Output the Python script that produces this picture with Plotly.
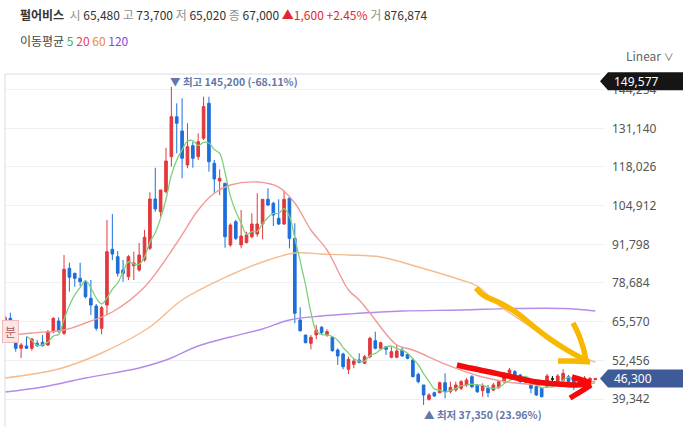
import plotly.graph_objects as go
import pandas as pd

# ---------------- data ----------------
opens = [65480, 66710, 59930, 56540, 57320, 56540, 58230, 58570, 57660, 62170,
         65800, 61630, 83670, 81970, 80280, 78780, 73490, 70880, 63320, 71220,
         90110, 87600, 83090, 80820, 84550, 83090, 86480, 90450, 107170, 102860,
         109640, 121510, 135070, 130230, 118700, 125240, 121510, 127750, 139620, 119270,
         113270, 112490, 91570, 99470, 91570, 92350, 94380, 95300, 98690, 107060,
         105710, 100620, 98690, 107400, 93840, 66140, 61050, 58230, 61050, 63660,
         61050, 60270, 55960, 54610, 49420, 51110, 52570, 51450, 53690, 59120,
         56540, 57080, 53490, 53490, 55960, 54500, 52570, 47720, 44090, 39240,
         41480, 41480, 44870, 41820, 42400, 42970, 44090, 46910, 44090, 42160,
         42970, 42400, 43310, 45210, 46910, 48600, 47490, 45110, 44430, 43520,
         42970, 43520, 46130, 44870, 45550, 46910, 45790, 45110, 44770, 45790,
         45900]
highs = [67490, 68610, 60710, 58340, 60470, 60030, 59350, 61050, 62740, 67050,
         67050, 88180, 85570, 82170, 85570, 79700, 79700, 71560, 70880, 100050,
         102080, 89530, 86480, 88180, 89300, 92250, 96650, 109440, 117780, 110220,
         124560, 145200, 139620, 141310, 132840, 126600, 129450, 141860, 141860, 120390,
         117240, 112490, 98930, 100050, 103440, 96080, 102320, 109100, 107060, 110790,
         106250, 107060, 109980, 107950, 98930, 70440, 61050, 61050, 64440, 64100,
         62980, 60710, 56540, 55050, 53690, 53150, 54840, 54270, 60470, 62170,
         58780, 57080, 57080, 57660, 57080, 54840, 53150, 48260, 44090, 41280,
         41820, 45210, 48060, 45210, 45210, 45790, 46470, 47490, 44430, 44670,
         44090, 44770, 45790, 48500, 49860, 49180, 47820, 47150, 44870, 44090,
         43420, 47820, 47150, 47820, 49420, 47490, 46470, 45790, 47150, 46800,
         46500]
lows = [65020, 64780, 55390, 53250, 56300, 55730, 56980, 57150, 57320, 61630,
        61860, 61050, 75730, 77430, 77660, 73490, 67830, 62510, 61290, 67830,
        86480, 80820, 79120, 79700, 79700, 82510, 85900, 89870, 102860, 101160,
        109100, 118120, 122660, 114190, 117580, 117780, 120390, 127170, 116420, 109100,
        108520, 90650, 90990, 93260, 90450, 92140, 93840, 94380, 93500, 104790,
        98010, 98350, 98350, 90450, 65020, 62170, 58230, 56200, 59590, 61390,
        60470, 55390, 50880, 49420, 47820, 49760, 51450, 51210, 53150, 56200,
        55960, 54270, 53150, 53150, 53690, 52810, 46700, 44670, 37350, 38770,
        40130, 41280, 39580, 41280, 41820, 42400, 43420, 42970, 41380, 40130,
        39920, 42060, 42740, 44770, 46470, 45790, 44770, 44430, 41280, 40360,
        39870, 43080, 44770, 44430, 45110, 44770, 42400, 43420, 44090, 45500,
        45800]
closes = [67000, 65560, 56540, 57660, 56540, 59690, 57420, 57420, 62170, 66710,
          62410, 83330, 80620, 80280, 79120, 74040, 71220, 63320, 70310, 89300,
          88520, 81970, 81970, 87600, 85460, 88180, 94180, 107170, 103780, 110220,
          120050, 135070, 132840, 120970, 124900, 120970, 126600, 138470, 119820, 113950,
          114190, 94380, 98350, 93840, 94620, 94960, 98690, 98690, 107060, 105130,
          101740, 98690, 107060, 93840, 68410, 62510, 58440, 60270, 62740, 61830,
          62170, 55730, 53930, 50300, 52810, 52230, 51790, 53690, 59930, 56540,
          58440, 56200, 55390, 55620, 53930, 53150, 46910, 45210, 40700, 40700,
          40360, 44870, 41820, 43310, 44090, 45210, 45790, 43520, 41820, 43750,
          41480, 44090, 45210, 48060, 49180, 46030, 45210, 46470, 42970, 40700,
          40130, 47150, 46130, 47150, 48060, 45210, 43750, 44090, 46470, 46300,
          46300]
doji_index = 102  # the black cross candle

# moving averages read at sample candles (index, value)
ma20_idx = [0, 5, 11, 15, 20, 26, 32, 36, 39, 42, 47, 51, 54, 57, 60, 64, 66, 68, 73, 76, 82, 89, 95, 102, 110]
ma20_val = [60710, 61730, 62740, 65120, 68850, 77330, 92250, 103440, 109100, 111910, 112930, 111230,
            105810, 96650, 89870, 76310, 72920, 68510, 57660, 55960, 51200, 46810, 44770, 44090, 44770]
ma60_idx = [0, 10, 18, 27, 33, 42, 48, 54, 59, 64, 70, 77, 85, 88, 92, 98, 105, 110]
ma60_val = [46470, 49520, 54940, 63760, 72920, 81390, 85800, 88850, 88510, 88180, 87500, 84110,
            79700, 77660, 71220, 63760, 55280, 51890]
ma120_idx = [0, 7, 15, 25, 30, 36, 42, 48, 53, 59, 64, 74, 85, 95, 104, 110]
ma120_val = [41720, 43420, 46470, 49860, 52570, 57320, 60370, 63080, 66140, 67490, 68170, 69190,
             69530, 70030, 70030, 69190]

y_ticks = [39342, 52456, 65570, 78684, 91798, 104912, 118026, 131140, 144254]
y_range = [29850, 149555]
top_label_value = "149,577"
last_price = 46300
high_text = "▼ 최고 145,200 (-68.11%)"
low_text = "▲ 최저 37,350 (23.96%)"
high_index, low_index = 31, 78

# ---------------- layout geometry ----------------
W, H = 692, 427
ML, MR, MT, MB = 5, 87, 74, 0
PW, PH = W - ML - MR, H - MT - MB
X_RANGE = [0, 111.8]

def pxx(x):
    return (x - ML) / PW

def pxy(y):
    return (H - MB - y) / PH

RED, BLUE = "#e2383d", "#1b6fdc"
KR = "Noto Sans CJK KR"

df = pd.DataFrame(dict(o=opens, h=highs, l=lows, c=closes))
df["i"] = range(len(df))
ma5 = df["c"].rolling(5).mean()
main = df[df["i"] != doji_index]
doji = df[df["i"] == doji_index]

fig = go.Figure()
fig.add_trace(go.Scatter(x=ma120_idx, y=ma120_val, mode="lines", line=dict(color="#b48be8", width=1.4, shape="spline")))
fig.add_trace(go.Scatter(x=ma60_idx, y=ma60_val, mode="lines", line=dict(color="#f7bb8b", width=1.4, shape="spline")))
fig.add_trace(go.Scatter(x=ma20_idx, y=ma20_val, mode="lines", line=dict(color="#f29a9a", width=1.4, shape="spline")))
fig.add_trace(go.Candlestick(
    x=main["i"], open=main["o"], high=main["h"], low=main["l"], close=main["c"],
    increasing=dict(line=dict(color=RED, width=1), fillcolor=RED),
    decreasing=dict(line=dict(color=BLUE, width=1), fillcolor=BLUE),
    whiskerwidth=0))
fig.add_trace(go.Candlestick(
    x=doji["i"], open=doji["o"], high=doji["h"], low=doji["l"], close=doji["c"],
    increasing=dict(line=dict(color="#111", width=1), fillcolor="#111"),
    decreasing=dict(line=dict(color="#111", width=1), fillcolor="#111"),
    whiskerwidth=0))
fig.add_trace(go.Scatter(x=df["i"], y=ma5, mode="lines", line=dict(color="#7fd07a", width=1.3, shape="spline")))

# hand-drawn arrows (pixel coordinates of the screenshot, on an overlay axis)
yellow_strokes = [
    [(476, 288), (483, 295), (500, 303), (517, 313), (533, 326), (550, 339), (567, 350), (587, 361)],
    [(573, 323), (578, 333), (583, 347), (586, 360)],
    [(558, 361), (574, 361), (590, 362)],
]
red_strokes = [
    [(457, 365), (470, 368), (490, 372), (503, 375), (517, 378), (537, 382), (557, 384), (577, 385), (591, 383)],
    [(572, 377), (582, 380), (591, 383)],
    [(570, 398), (580, 392), (591, 385)],
]
for strokes, col, wd in ((yellow_strokes, "#f8b800", 5.5), (red_strokes, "#f40a0a", 5.5)):
    for s in strokes:
        fig.add_trace(go.Scatter(x=[p[0] for p in s], y=[p[1] for p in s], xaxis="x2", yaxis="y2",
                                 mode="lines", line=dict(color=col, width=wd, shape="spline")))

shapes = [
    dict(type="line", xref="paper", yref="paper", x0=0, x1=pxx(601), y0=1, y1=1,
         line=dict(color="#d8dce2", width=1)),
    dict(type="line", xref="paper", yref="paper", x0=0, x1=0, y0=0, y1=1,
         line=dict(color="#d8dce2", width=1)),
]
for yc, col in ((81.2, "#151515"), (378.6, "#3f5a98")):
    shapes.append(dict(type="path", xref="paper", yref="paper", xsizemode="pixel", ysizemode="pixel",
                       xanchor=1, yanchor=pxy(yc), layer="above",
                       path="M -5,0 L 3,-9 L 78,-9 L 78,9 L 3,9 Z",
                       fillcolor=col, line=dict(width=0)))

ann = []
header = ("<b>펄어비스</b>  "
          "<span style='color:#8f8f8f'>시</span> 65,480 "
          "<span style='color:#8f8f8f'>고</span> 73,700 "
          "<span style='color:#8f8f8f'>저</span> 65,020 "
          "<span style='color:#8f8f8f'>종</span> 67,000 "
          "<span style='color:#e0282e'>▲1,600 +2.45%</span> "
          "<span style='color:#8f8f8f'>거</span> 876,874")
ann.append(dict(text=header, xref="paper", yref="paper", x=pxx(18), y=pxy(14), xanchor="left",
                yanchor="middle", showarrow=False, font=dict(family=KR, size=12, color="#333")))
legend = ("이동평균 <span style='color:#3fae3a'>5</span> <span style='color:#e8435a'>20</span> "
          "<span style='color:#f08a30'>60</span> <span style='color:#8d46df'>120</span>")
ann.append(dict(text=legend, xref="paper", yref="paper", x=pxx(18), y=pxy(40), xanchor="left",
                yanchor="middle", showarrow=False, font=dict(family=KR, size=12, color="#444")))
ann.append(dict(text="Linear <span style='font-size:10px'>∨</span>", xref="paper", yref="paper", x=pxx(624), y=pxy(55),
                xanchor="left", yanchor="middle", showarrow=False, font=dict(family=KR, size=12, color="#666")))
ann.append(dict(text=top_label_value, xref="paper", yref="paper", x=1, xshift=7, y=pxy(81.2), xanchor="left",
                yanchor="middle", showarrow=False, font=dict(family="Noto Sans", size=12, color="white")))
ann.append(dict(text=f"{last_price:,}", xref="paper", yref="paper", x=1, xshift=7, y=pxy(378.6), xanchor="left",
                yanchor="middle", showarrow=False, font=dict(family="Noto Sans", size=12, color="white")))
ann.append(dict(text=f"<b>{high_text}</b>", xref="x", yref="paper", x=high_index, xshift=-3, y=pxy(81.5), xanchor="left",
                yanchor="middle", showarrow=False, font=dict(family=KR, size=10.5, color="#6378aa")))
ann.append(dict(text=f"<b>{low_text}</b>", xref="x", yref="paper", x=low_index, xshift=-2, y=pxy(414), xanchor="left",
                yanchor="middle", showarrow=False, font=dict(family=KR, size=10.5, color="#6378aa")))
ann.append(dict(text="분", xref="paper", yref="paper", x=0, xshift=14, y=pxy(331), xanchor="right",
                yanchor="middle", showarrow=False, bgcolor="#fde6e6", bordercolor="#f1b9b9", borderwidth=1,
                borderpad=2, font=dict(family=KR, size=12, color="#b0585a")))

fig.update_layout(
    width=W, height=H, margin=dict(l=ML, r=MR, t=MT, b=MB),
    paper_bgcolor="white", plot_bgcolor="white", showlegend=False,
    xaxis=dict(range=X_RANGE, showgrid=False, zeroline=False, showticklabels=False, ticks="",
               rangeslider=dict(visible=False), fixedrange=True),
    yaxis=dict(range=y_range, side="right", tickvals=y_ticks, ticktext=[f"{v:,}" for v in y_ticks],
               showgrid=True, gridcolor="#eef0f3", gridwidth=1, zeroline=False, ticks="",
               tickfont=dict(family="Noto Sans", size=12, color="#555"), ticklabelstandoff=6),
    xaxis2=dict(overlaying="x", range=[ML, ML + PW], visible=False),
    yaxis2=dict(overlaying="y", range=[H - MB, MT], visible=False),
    shapes=shapes, annotations=ann, hovermode=False,
)
fig.write_html("out.html")
